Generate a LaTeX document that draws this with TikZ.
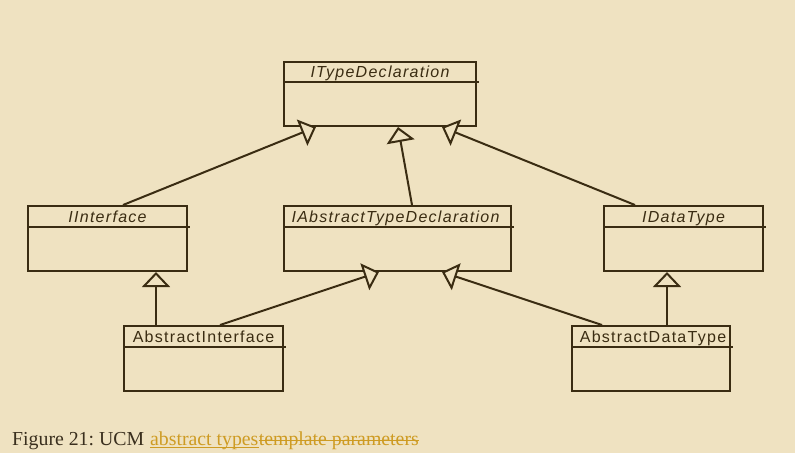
\documentclass[tikz,border=0pt]{standalone}
\usepackage{fontspec}
\setmainfont{Liberation Serif}
\newfontfamily\umlfont[LetterSpace=8]{Liberation Sans}
\usetikzlibrary{arrows.meta,calc}
\definecolor{bg}{HTML}{EFE2C1}
\definecolor{ink}{HTML}{3A2C12}
\definecolor{gold}{HTML}{CE9B22}
\definecolor{captxt}{HTML}{3A2F1E}
\frenchspacing
\tikzset{
  umlbox/.style={draw=ink, line width=2pt, rectangle, inner sep=0pt, anchor=north west},
  umltitle/.style={text=ink, inner sep=0pt, font=\umlfont\fontsize{16}{19}\selectfont},
  divider/.style={draw=ink, line width=1.6pt},
  gen/.style={draw=ink, line width=2pt, -{Triangle[open, length=15pt, width=28pt, fill=bg]}},
  captext/.style={anchor=base west, inner sep=0pt, font=\frenchspacing\fontsize{19.8}{23}\selectfont},
  goldline/.style={draw=gold, line width=1.1pt},
}
\begin{document}
\begin{tikzpicture}[x=1pt,y=-1pt]
\fill[bg] (0,0) rectangle (795,453);
\useasboundingbox (0,0) rectangle (795,453);
% boxes
\node[umlbox, minimum width=192pt, minimum height=64pt] (itd) at (283,61) {};
\node[umlbox, minimum width=159pt, minimum height=65pt] (iif) at (27,205) {};
\node[umlbox, minimum width=227pt, minimum height=65pt] (iatd) at (283,205) {};
\node[umlbox, minimum width=159pt, minimum height=65pt] (idt) at (603,205) {};
\node[umlbox, minimum width=159pt, minimum height=65pt] (ai) at (123,325) {};
\node[umlbox, minimum width=158pt, minimum height=65pt] (adt) at (571,325) {};
% dividers
\draw[divider] ($(itd.north west)+(0,21)$) -- ($(itd.north east)+(2,21)$);
\draw[divider] ($(iif.north west)+(0,22)$) -- ($(iif.north east)+(2,22)$);
\draw[divider] ($(iatd.north west)+(0,22)$) -- ($(iatd.north east)+(2,22)$);
\draw[divider] ($(idt.north west)+(0,22)$) -- ($(idt.north east)+(2,22)$);
\draw[divider] ($(ai.north west)+(0,22)$) -- ($(ai.north east)+(2,22)$);
\draw[divider] ($(adt.north west)+(0,22)$) -- ($(adt.north east)+(2,22)$);
% titles
\node[umltitle, anchor=base] (itdt) at ($(itd.north)+(0,16)$) {\itshape ITypeDeclaration};
\node[umltitle, anchor=base] (iift) at ($(iif.north)+(0,17)$) {\itshape IInterface};
\node[umltitle, anchor=base] (iatdt) at ($(iatd.north)+(-2,17)$) {\itshape IAbstractTypeDeclaration};
\node[umltitle, anchor=base] (idtt) at ($(idt.north)+(0,17)$) {\itshape IDataType};
\node[umltitle, anchor=base] (ait) at ($(ai.north)+(0,17)$) {AbstractInterface};
\node[umltitle, anchor=base] (adtt) at ($(adt.north)+(2,17)$) {AbstractDataType};
% generalizations
\draw[gen] ($(iif.north west)+(96,0)$) -- ($(itd.south west)+(33,0)$);
\draw[gen] ($(iatd.north west)+(129,0)$) -- ($(itd.south west)+(115,0)$);
\draw[gen] ($(idt.north west)+(32,0)$) -- ($(itd.south west)+(159,0)$);
\draw[gen] ($(ai.north west)+(33,0)$) -- ($(iif.south west)+(129,0)$);
\draw[gen] ($(ai.north west)+(97,0)$) -- ($(iatd.south west)+(96,0)$);
\draw[gen] ($(adt.north west)+(31,0)$) -- ($(iatd.south west)+(159,0)$);
\draw[gen] ($(adt.north west)+(96,0)$) -- ($(idt.south west)+(64,0)$);
% caption
\node[captext, text=captxt] (cap1) at (12,445) {Figure 21: UCM};
\node[captext, text=gold] (cap2) at ($(cap1.base east)+(5.5,0)$) {abstract types};
\node[captext, text=gold] (cap3) at (cap2.base east) {template parameters};
\draw[goldline] ($(cap2.base west)+(0,2.2)$) -- ($(cap2.base east)+(0,2.2)$);
\draw[goldline] ($(cap3.base west)+(0,-4.5)$) -- ($(cap3.base east)+(0,-4.5)$);
\end{tikzpicture}
\end{document}
